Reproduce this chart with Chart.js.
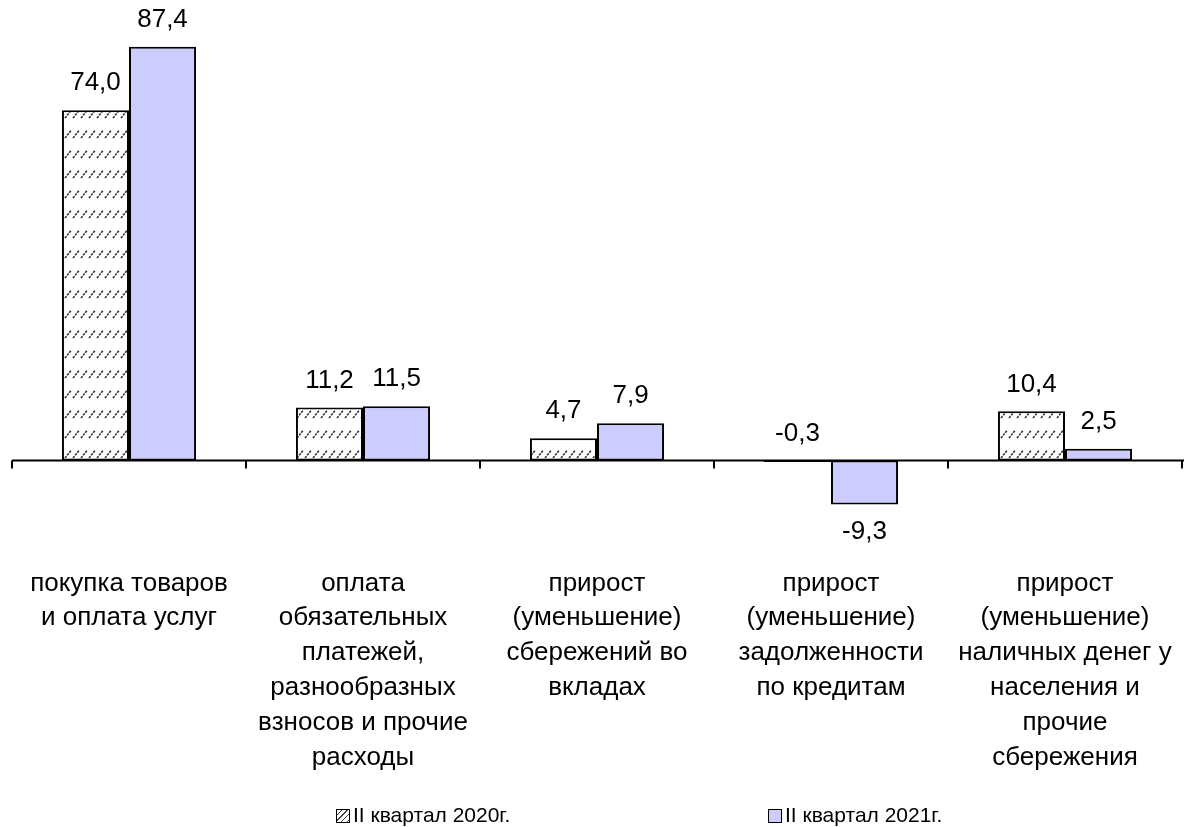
<!DOCTYPE html>
<html>
<head>
<meta charset="utf-8">
<script src="https://cdn.jsdelivr.net/npm/chart.js@4/dist/chart.umd.min.js"></script>
<style>
  body { margin: 0; background: #fff; font-family: 'Liberation Sans', Arial, sans-serif; }
  #wrap { position: relative; width: 1184px; height: 827px; }
  #legend { position: absolute; top: 803px; left: 0; width: 1184px; height: 24px; font-size: 21px; color: #000; }
  .item { position: absolute; top: 0; line-height: 24px; white-space: nowrap; }
  .box { display: inline-block; width: 12px; height: 12px; border: 1px solid #000; vertical-align: -1px; margin-right: 3px; }
</style>
</head>
<body>
<div id="wrap">
  <canvas id="chart" width="1184" height="827"></canvas>
  <div id="legend"></div>
</div>
<script>
/* структура использования денежных доходов */
const categories = [
  ['покупка товаров', 'и оплата услуг'],
  ['оплата', 'обязательных', 'платежей,', 'разнообразных', 'взносов и прочие', 'расходы'],
  ['прирост', '(уменьшение)', 'сбережений во', 'вкладах'],
  ['прирост', '(уменьшение)', 'задолженности', 'по кредитам'],
  ['прирост', '(уменьшение)', 'наличных денег у', 'населения и', 'прочие', 'сбережения']
];
const seriesNames = ['II квартал 2020г.', 'II квартал 2021г.'];
const values2020 = [74.0, 11.2, 4.7, -0.3, 10.4];
const values2021 = [87.4, 11.5, 7.9, -9.3, 2.5];

const FONT = "'Liberation Sans', Arial, sans-serif";

// штриховка для 2020
function hatch() {
  const c = document.createElement('canvas');
  c.width = 8; c.height = 20;
  const g = c.getContext('2d');
  g.fillStyle = '#fff';
  g.fillRect(0, 0, 8, 20);
  g.strokeStyle = '#333';
  g.lineWidth = 1.6;
  g.setLineDash([2.4, 1]);
  g.beginPath();
  g.moveTo(1, 18);
  g.lineTo(7.5, 10);
  g.stroke();
  return g.createPattern(c, 'repeat');
}
const hatchFill = hatch();

const fmt = v => v.toFixed(1).replace('.', ',');

// подписи значений
const valueLabels = {
  id: 'valueLabels',
  afterDatasetsDraw(chart) {
    const ctx = chart.ctx;
    ctx.save();
    ctx.font = '26px ' + FONT;
    ctx.fillStyle = '#000';
    ctx.textAlign = 'center';
    ctx.textBaseline = 'middle';
    chart.data.datasets.forEach((ds, i) => {
      chart.getDatasetMeta(i).data.forEach((bar, j) => {
        const v = ds.data[j];
        const h = Math.abs(bar.base - bar.y);
        let y;
        if (v >= 0 || h < 5) y = Math.min(bar.y, bar.base) - 27;
        else y = bar.y + 27;
        ctx.fillText(fmt(v), bar.x, y);
      });
    });
    ctx.restore();
  }
};

// ось и засечки на границах категорий
const axisTicks = {
  id: 'axisTicks',
  afterDatasetsDraw(chart) {
    const x = chart.scales.x, y = chart.scales.y;
    const y0 = y.getPixelForValue(0);
    const ctx = chart.ctx;
    ctx.save();
    ctx.strokeStyle = '#000';
    ctx.lineWidth = 2;
    ctx.beginPath();
    ctx.moveTo(x.left, y0);
    ctx.lineTo(chart.width, y0);
    for (let i = 0; i <= categories.length; i++) {
      const px = x.getPixelForValue(i - 0.5);
      ctx.moveTo(px, y0);
      ctx.lineTo(px, y0 + 8);
    }
    ctx.stroke();
    ctx.restore();
  }
};

const config = {
  type: 'bar',
  data: {
    labels: categories,
    datasets: [
      {
        label: seriesNames[0],
        data: values2020,
        backgroundColor: hatchFill,
        borderColor: '#000',
        borderWidth: 2,
        borderSkipped: false
      },
      {
        label: seriesNames[1],
        data: values2021,
        backgroundColor: '#ccccff',
        borderColor: '#000',
        borderWidth: 2,
        borderSkipped: false
      }
    ]
  },
  options: {
    responsive: false,
    animation: false,
    layout: { padding: { left: 12, right: 2, top: 25, bottom: 27 } },
    datasets: { bar: { categoryPercentage: 0.573, barPercentage: 1 } },
    plugins: {
      legend: { display: false },
      tooltip: { enabled: false }
    },
    scales: {
      x: {
        grid: { display: false, drawTicks: false },
        border: { display: false },
        afterFit: s => { s.height = 240; },
        ticks: {
          autoSkip: false,
          maxRotation: 0,
          padding: 6,
          color: '#000',
          font: { family: FONT, size: 26, lineHeight: 1.34 }
        }
      },
      y: {
        display: false,
        min: -21,
        max: 92
      }
    }
  },
  plugins: [valueLabels, axisTicks]
};

const chart = new Chart(document.getElementById('chart'), config);

// легенда
const legendPos = [336, 768];
const legendFill = ['repeating-linear-gradient(135deg, #fff 0 3px, #444 3px 4px)', '#ccccff'];
const legendEl = document.getElementById('legend');
seriesNames.forEach((name, i) => {
  const it = document.createElement('span');
  it.className = 'item';
  it.style.left = legendPos[i] + 'px';
  const b = document.createElement('span');
  b.className = 'box';
  b.style.background = legendFill[i];
  it.appendChild(b);
  it.appendChild(document.createTextNode(name));
  legendEl.appendChild(it);
});
</script>
</body>
</html>
